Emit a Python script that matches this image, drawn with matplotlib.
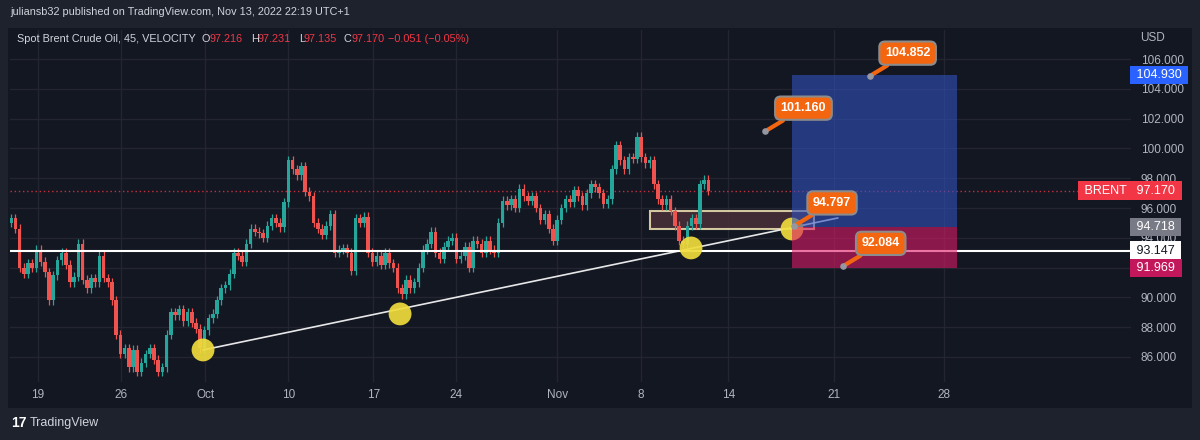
"""
Spot Brent crude, 45m chart with a long-position idea (TradingView style snapshot).
"""

import numpy as np
import matplotlib.pyplot as plt
import matplotlib.transforms as mtransforms
from matplotlib.patches import Rectangle

plt.rcParams["font.family"] = ["Liberation Sans", "DejaVu Sans"]

W, H = 1200, 440

# ── Data ────────────────────────────────────────────────────────────────────
# closes of the 45m candles, thinned to one every quarter day (Sep 16 -> Nov 11)
closes = [
    95.3, 94.6, 92.0, 91.6, 92.3, 92.0, 93.2, 92.4, 91.7, 89.8,
    91.5, 92.5, 93.0, 92.2, 91.0, 91.4, 93.6, 91.2, 90.6, 91.3,
    91.0, 92.8, 91.3, 91.0, 89.8, 87.5, 86.2, 86.6, 85.3, 86.5,
    85.0, 85.6, 86.2, 86.6, 85.8, 85.0, 85.3, 87.5, 89.0, 88.8,
    89.2, 88.4, 89.0, 88.3, 87.9, 86.6, 87.8, 88.6, 88.9, 89.8,
    90.6, 90.8, 91.6, 93.0, 92.8, 92.4, 93.6, 94.6, 94.4, 94.3,
    94.0, 94.8, 95.3, 95.0, 94.7, 96.4, 99.2, 98.6, 98.2, 98.8,
    97.1, 96.8, 95.0, 94.6, 94.2, 94.8, 95.6, 93.0, 93.2, 93.3,
    93.0, 91.8, 95.3, 95.0, 95.4, 93.0, 92.4, 92.8, 92.2, 93.0,
    92.3, 92.0, 90.6, 90.2, 91.2, 90.6, 91.0, 92.0, 93.2, 93.6,
    94.4, 93.0, 92.6, 93.4, 93.8, 94.0, 92.6, 92.8, 93.4, 92.0,
    93.8, 93.6, 93.0, 93.8, 93.2, 93.0, 95.0, 96.5, 96.2, 96.6,
    96.0, 97.3, 96.8, 96.5, 96.8, 96.0, 95.2, 95.6, 94.6, 93.8,
    95.2, 96.0, 96.6, 96.4, 97.2, 96.8, 96.2, 97.0, 97.6, 97.4,
    97.0, 96.3, 96.6, 98.6, 100.2, 99.2, 98.6, 99.4, 99.3, 100.8,
    99.4, 99.0, 99.2, 97.6, 96.6, 96.2, 96.6, 95.8, 94.8, 93.8,
    93.6, 94.8, 95.3, 94.9, 97.6, 97.9, 97.17,
]
first_open = 95.0
bar_start = -1.6      # days from Sep 19
bar_step = 0.25

date_ticks = [0, 4.95, 9.95, 14.9, 19.95, 24.9, 30.9, 35.9, 41.1, 47.4, 53.9]
date_labels = ["19", "26", "Oct", "10", "17", "24", "Nov", "8", "14", "21", "28"]
price_ticks = [86, 88, 90, 92, 94, 96, 98, 100, 102, 104, 106]
price_labels = ["86.000", "88.000", "90.000", "", "94.000", "96.000",
                "98.000", "100.000", "102.000", "104.000", "106.000"]   # 92 hidden under badge

last_price = 97.170
support = 93.147
entry, target, stop = 94.718, 104.930, 91.969
pos_x = [44.9, 54.7]

trend_x = [9.82, 47.6]
trend_y = [86.47, 95.33]
touch_x = [9.82, 21.55, 38.87, 44.88]
touch_y = [86.47, 88.89, 93.32, 94.59]

zone_x = [36.4, 46.2]
zone_y = [94.59, 95.80]

callout_vals = [104.852, 101.160, 94.797, 92.084]
callout_x = [49.5, 43.3, 45.0, 47.9]

# ── Style ───────────────────────────────────────────────────────────────────
BG = "#131722"
FRAME = "#1e222d"
TXT = "#b2b5be"
UP, DOWN = "#26a69a", "#ef5350"
ORANGE = "#f4650f"

fig = plt.figure(figsize=(W / 100, H / 100), dpi=100)
fig.patch.set_facecolor(FRAME)
fig.patches.append(Rectangle((8 / W, 1 - 408 / H), 1184 / W, 380 / H,
                             transform=fig.transFigure, fc=BG, ec="none", zorder=-1))

ax = fig.add_axes([10 / W, 1 - 382 / H, 1121 / W, 352 / H])
ax.set_facecolor("none")
ax.set_xlim(-1.67, 65.06)
ax.set_ylim(84.32, 107.95)
for s in ax.spines.values():
    s.set_visible(False)
ax.grid(True, color="#232631", lw=1)
ax.set_axisbelow(True)

ax.set_xticks(date_ticks, date_labels)
ax.yaxis.tick_right()
ax.set_yticks(price_ticks, price_labels)
ax.tick_params(axis="x", length=0, pad=5, colors=TXT, labelsize=8.5)
ax.tick_params(axis="y", length=0, pad=7, colors=TXT, labelsize=8.5)

# candles
c = np.array(closes)
o = np.concatenate([[first_open], c[:-1]])
x = bar_start + bar_step * np.arange(len(c))
col = np.where(c >= o, UP, DOWN)
ax.vlines(x, np.minimum(o, c) - 0.3, np.maximum(o, c) + 0.3, colors=col, lw=0.9, zorder=3)
ax.bar(x, np.maximum(np.abs(c - o), 0.05), bottom=np.minimum(o, c), width=0.21,
       color=col, zorder=3)

# horizontal levels
ax.axhline(last_price, color="#f23645", lw=1, ls=(0, (1, 2)), alpha=0.8, zorder=2)
ax.axhline(support, color="white", lw=1.5, zorder=4)

# rising trend line + touches
ax.plot(trend_x, trend_y, color="white", lw=1.2, alpha=0.9, zorder=4)
ax.scatter(touch_x, touch_y, s=270, color="#f0dc3c", alpha=0.92, ec="none", zorder=5)

# demand zone
ax.add_patch(Rectangle((zone_x[0], zone_y[0]), zone_x[1] - zone_x[0], zone_y[1] - zone_y[0],
                       fc="#4a2f38", ec="#f3e6b5", lw=1.5, alpha=0.85, zorder=2.5))

# long position tool
ax.add_patch(Rectangle((pos_x[0], entry), pos_x[1] - pos_x[0], target - entry,
                       fc="#3150bd", alpha=0.6, ec="none", zorder=6))
ax.add_patch(Rectangle((pos_x[0], stop), pos_x[1] - pos_x[0], entry - stop,
                       fc="#dc1a66", alpha=0.6, ec="none", zorder=6))

# callouts
for cx, v in zip(callout_x, callout_vals):
    ax.annotate(f"{v:.3f}", xy=(cx, v), xytext=(38, 23), textcoords="offset pixels",
                ha="center", va="center", color="white", fontsize=9, fontweight="bold",
                bbox=dict(boxstyle="round,pad=0.45", fc=ORANGE, ec="#8c8c8c", lw=1.5),
                arrowprops=dict(arrowstyle="-", color=ORANGE, lw=3, shrinkA=0, shrinkB=2),
                zorder=8)
ax.scatter(callout_x, callout_vals, s=14, color="#9598a1", zorder=9)

# price-axis badges
tr = mtransforms.blended_transform_factory(ax.transAxes, ax.transData)
badges = [(target, "#2962ff", "white"), (last_price, "#f23645", "white"),
          (entry, "#787b86", "white"), (support, "white", BG), (stop, "#c2185b", "white")]
for val, fc, tc in badges:
    ax.text(1.0 + 2 / 1121, val, f" {val:.3f} ", transform=tr, ha="left", va="center",
            fontsize=9, color=tc, clip_on=False, zorder=10,
            bbox=dict(boxstyle="square,pad=0.25", fc=fc, ec="none"))
ax.text(1.0 - 1 / 1121, last_price, " BRENT ", transform=tr, ha="right", va="center",
        fontsize=9, color="white", clip_on=False, zorder=10,
        bbox=dict(boxstyle="square,pad=0.25", fc="#f23645", ec="none"))


def ftext(px, py, s, **kw):
    fig.text(px / W, 1 - py / H, s, va="center", **kw)


ftext(1140, 38, "USD", color=TXT, fontsize=8.5)

# header
ftext(10, 12, "juliansb32 published on TradingView.com, Nov 13, 2022 22:19 UTC+1",
      color="#d1d4dc", fontsize=7.8)
legend = [(17, "Spot Brent Crude Oil, 45, VELOCITY", "#d1d4dc"),
          (202, "O", "#d1d4dc"), (209, "97.216", "#f23645"),
          (251, "H", "#d1d4dc"), (258, "97.231", "#f23645"),
          (299, "L", "#d1d4dc"), (304, "97.135", "#f23645"),
          (344, "C", "#d1d4dc"), (351, "97.170", "#f23645"),
          (388, "\u22120.051 (\u22120.05%)", "#f23645")]
for px, s, colr in legend:
    ftext(px, 39, s, color=colr, fontsize=7.8)

# footer
ftext(11, 423, "17", color="white", fontsize=10, fontweight="bold")
ftext(30, 423, "TradingView", color="#d1d4dc", fontsize=9)

fig.savefig("out.png", dpi=100, facecolor=fig.get_facecolor())
